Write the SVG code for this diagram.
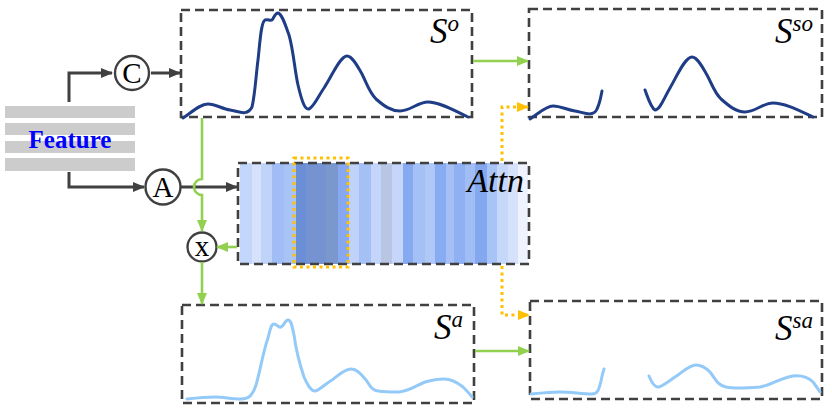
<svg xmlns="http://www.w3.org/2000/svg" width="832" height="410" viewBox="0 0 832 410">
<style>
.box{fill:none;stroke:#404040;stroke-width:2.6;stroke-dasharray:9 5}
.dk{fill:none;stroke:#404040;stroke-width:3}
.gr{fill:none;stroke:#92d050;stroke-width:2.6}
.or{fill:none;stroke:#ffc000;stroke-width:3;stroke-dasharray:3 3.5}
.circ{fill:#fff;stroke:#404040;stroke-width:2.4}
.cl{font-family:"Liberation Serif",serif;font-size:29px;fill:#000;text-anchor:middle}
.lab{font-family:"Liberation Serif",serif;font-style:italic;fill:#000}
.navy{fill:none;stroke:#1f3d87;stroke-width:3;stroke-linecap:round;stroke-linejoin:round}
.lb{fill:none;stroke:#94caf8;stroke-width:3;stroke-linecap:round;stroke-linejoin:round}
.bar{fill:#cccccc}
</style>
<defs>
<marker id="ad" markerUnits="userSpaceOnUse" markerWidth="12" markerHeight="12" refX="11" refY="6" orient="auto"><path d="M0,1 L12,6 L0,11 Z" fill="#404040"/></marker>
<marker id="ag" markerUnits="userSpaceOnUse" markerWidth="12" markerHeight="12" refX="11" refY="6" orient="auto"><path d="M0,1 L12,6 L0,11 Z" fill="#92d050"/></marker>
<marker id="ao" markerUnits="userSpaceOnUse" markerWidth="12" markerHeight="12" refX="11" refY="6" orient="auto"><path d="M0,1 L12,6 L0,11 Z" fill="#ffc000"/></marker>
</defs>

<g id="feature">
<rect class="bar" x="5" y="106" width="130" height="12"/>
<rect class="bar" x="5" y="123" width="130" height="12"/>
<rect class="bar" x="5" y="141" width="130" height="12"/>
<rect class="bar" x="5" y="158" width="130" height="13"/>
<text x="70" y="148" font-family="Liberation Serif,serif" font-weight="bold" font-size="25" fill="#0000ff" text-anchor="middle">Feature</text>
</g>

<g id="attn">
<g stroke="none">
<rect x="240" y="163" width="12" height="101" fill="#c3d6fb"/>
<rect x="252" y="163" width="9" height="101" fill="#d6e2fb"/>
<rect x="261" y="163" width="11" height="101" fill="#c0d4fa"/>
<rect x="272" y="163" width="12" height="101" fill="#a0bdf5"/>
<rect x="284" y="163" width="12" height="101" fill="#a8c3f5"/>
<rect x="296" y="163" width="10" height="101" fill="#6a8fd6"/>
<rect x="306" y="163" width="20" height="101" fill="#7593d0"/>
<rect x="326" y="163" width="12" height="101" fill="#7a98ce"/>
<rect x="338" y="163" width="11" height="101" fill="#85a8f0"/>
<rect x="349" y="163" width="10" height="101" fill="#c0d2f8"/>
<rect x="359" y="163" width="12" height="101" fill="#a4c0f5"/>
<rect x="371" y="163" width="10" height="101" fill="#c3d5fa"/>
<rect x="381" y="163" width="11" height="101" fill="#b8c6e4"/>
<rect x="392" y="163" width="11" height="101" fill="#c5d6fa"/>
<rect x="403" y="163" width="10" height="101" fill="#85aaf2"/>
<rect x="413" y="163" width="12" height="101" fill="#a4c0f5"/>
<rect x="425" y="163" width="10" height="101" fill="#b0c8f7"/>
<rect x="435" y="163" width="11" height="101" fill="#88acf2"/>
<rect x="446" y="163" width="8" height="101" fill="#a4c0f5"/>
<rect x="454" y="163" width="11" height="101" fill="#8fb0f2"/>
<rect x="465" y="163" width="10" height="101" fill="#a0bdf5"/>
<rect x="475" y="163" width="12" height="101" fill="#84a8f0"/>
<rect x="487" y="163" width="10" height="101" fill="#a8c3f5"/>
<rect x="497" y="163" width="11" height="101" fill="#c6d8fa"/>
<rect x="508" y="163" width="10" height="101" fill="#d6e2fb"/>
<rect x="518" y="163" width="10" height="101" fill="#eef3fd"/>
</g>
<rect class="box" x="238" y="163" width="291" height="101"/>
<rect class="or" x="294" y="158" width="54" height="109"/>
<text class="lab" x="524" y="192" font-size="34" text-anchor="end">Attn</text>
</g>

<g id="So">
<rect class="box" x="181" y="10" width="291" height="107"/>
<path class="navy" d="M183,118 C192,112 200,104 208,104 C216,104 222,109 230,110 C238,111 247,117 252,107 C255,95 256,75 258,60 C260,42 261,22 265,20 C268,19 270,21 272,20 C274,18 275,13 278,13 C282,14 285,24 289,35 C293,48 295,72 298,85 C302,102 305,110 309,109 C314,107 319,95 324,88 C332,76 340,56 347,56 C352,56 357,65 362,74 C367,84 369,92 376,99 C384,106 391,111 400,111 C410,111 418,102 428,102 C440,102 455,111 468,117"/>
<text class="lab" x="430" y="43" font-size="35">S<tspan font-size="23" dy="-12">o</tspan></text>
</g>

<g id="Sso">
<rect class="box" x="529" y="9" width="293" height="108"/>
<path class="navy" d="M530,119 C539,113 546,106 553,106 C561,106 567,110 575,111 C583,112 593,118 597,109 C600,103 601,96 602,91"/>
<path class="navy" d="M645,90 C648,98 651,108 655,110 C660,110 664,98 670,88 C677,76 685,57 692,57 C697,57 702,66 707,75 C712,84 714,92 721,99 C729,106 736,112 745,112 C755,112 763,103 773,103 C785,103 800,111 813,117"/>
<text class="lab" x="775" y="43" font-size="35">S<tspan font-size="23" dy="-12">so</tspan></text>
</g>

<g id="Sa">
<rect class="box" x="182" y="305" width="292" height="98"/>
<path class="lb" d="M187,399 C196,398 206,397 215,397 C224,397 231,399 240,399 C248,399 252,397 256,385 C260,372 263,352 268,338 C270,330 271,324 274,324 C277,324 278,328 281,327 C284,326 285,320 288,320 C291,320 292,325 294,335 C296,350 299,362 304,377 C308,386 311,391 315,391 C320,390 325,384 332,380 C338,376 344,369 351,369 C357,369 361,374 366,380 C370,385 371,390 378,391 C385,392 392,392 399,392 C410,391 417,385 425,382 C432,380 438,379 444,379 C452,379 458,383 463,387 C467,391 470,394 472,397"/>
<text class="lab" x="434" y="339" font-size="35">S<tspan font-size="23" dy="-12">a</tspan></text>
</g>

<g id="Ssa">
<rect class="box" x="530" y="301" width="292" height="98"/>
<path class="lb" d="M531,394 C541,393 551,392 560,392 C571,392 582,394 592,394 C598,394 599,389 601,381 C602,376 603,372 604,369"/>
<path class="lb" d="M649,376 C651,381 654,387 658,387 C662,387 670,380 678,375 C685,370 690,365 696,365 C702,365 706,368 710,372 C715,378 717,385 726,387 C735,389 748,388 760,387 C772,385 780,378 793,376 C803,375 809,378 813,382 C816,386 818,389 820,392"/>
<text class="lab" x="775" y="340" font-size="35">S<tspan font-size="23" dy="-12">sa</tspan></text>
</g>

<g id="C">
<circle class="circ" cx="132" cy="73" r="17"/>
<text class="cl" x="132" y="83">C</text>
</g>
<g id="A">
<circle class="circ" cx="163" cy="187" r="17.5"/>
<text class="cl" x="163" y="197">A</text>
</g>
<g id="X">
<circle class="circ" cx="202" cy="247" r="14.5"/>
<text class="cl" x="202" y="256" font-size="27">x</text>
</g>

<g id="connectors">
<path class="dk" d="M69,102 V73 H112" marker-end="url(#ad)"/>
<path class="dk" d="M151,73 H180" marker-end="url(#ad)"/>
<path class="dk" d="M69,172 V187 H144" marker-end="url(#ad)"/>
<path class="dk" d="M181,187 H237" marker-end="url(#ad)"/>
<path class="gr" d="M202,118 V179 A8,8 0 0 0 202,195 V231" marker-end="url(#ag)"/>
<path class="gr" d="M237,247 H217" marker-end="url(#ag)"/>
<path class="gr" d="M202,262 V304" marker-end="url(#ag)"/>
<path class="gr" d="M473,61 H528" marker-end="url(#ag)"/>
<path class="gr" d="M475,351 H529" marker-end="url(#ag)"/>
<path class="or" d="M502,161 V107 H528" marker-end="url(#ao)"/>
<path class="or" d="M502,266 V315 H529" marker-end="url(#ao)"/>
</g>
</svg>
